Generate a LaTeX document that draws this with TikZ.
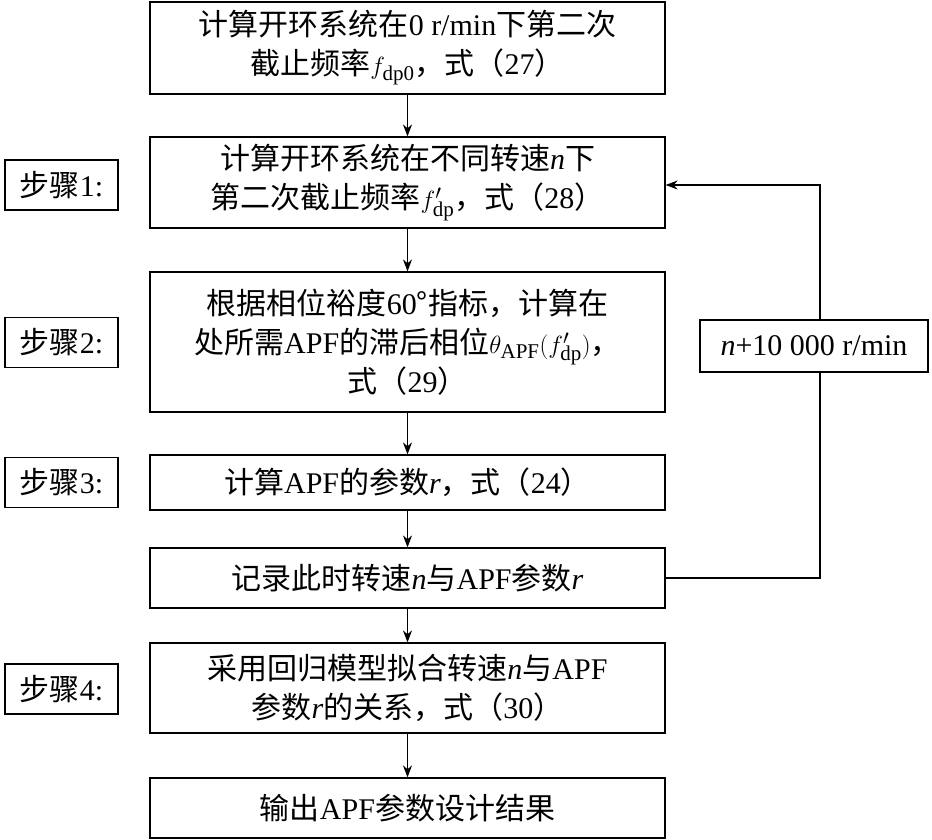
\documentclass[tikz,border=0pt]{standalone}
\usepackage{fontspec}
\setmainfont{Liberation Serif}
\newfontfamily\cjk{Noto Sans CJK SC}
\usetikzlibrary{arrows.meta}
\newcommand{\zh}[1]{{\cjk #1}}
\begin{document}
\begin{tikzpicture}[x=1pt,y=-1pt,
  box/.style={draw,line width=1.2pt,minimum width=515pt,align=center,font=\fontsize{30}{39}\selectfont,inner sep=0pt},
  stepbox/.style={draw,line width=1.2pt,minimum width=113pt,minimum height=50pt,inner sep=0pt,font=\fontsize{30}{34}\selectfont},
  arr/.style={line width=1.2pt,-{Stealth[length=12pt,width=9pt]}}]
\useasboundingbox (0,0) rectangle (932,840);
\node[box,minimum height=92pt] (b0) at (407.5,48) {\zh{计算开环系统在}0 r/min\zh{下第二次}\\\zh{截止频率}$f_{\mathrm{dp0}}$\zh{，式（}27\zh{）}};
\node[box,minimum height=91pt] (b1) at (407.5,182.5) {\zh{计算开环系统在不同转速}\textit{n}\zh{下}\\\zh{第二次截止频率}$f'_{\mathrm{dp}}$\zh{，式（}28\zh{）}};
\node[box,minimum height=140pt] (b2) at (407.5,342) {\zh{根据相位裕度}60\zh{°指标，计算在}\\\zh{处所需}APF\zh{的滞后相位}$\theta_{\mathrm{APF}}(f'_{\mathrm{dp}})$\zh{，}\\\zh{式（}29\zh{）}};
\node[box,minimum height=55pt] (b3) at (407.5,482.5) {\zh{计算}APF\zh{的参数}\textit{r}\zh{，式（}24\zh{）}};
\node[box,minimum height=60pt] (b4) at (407.5,578) {\zh{记录此时转速}\textit{n}\zh{与}APF\zh{参数}\textit{r}};
\node[box,minimum height=90pt] (b5) at (407.5,688) {\zh{采用回归模型拟合转速}\textit{n}\zh{与}APF\\\zh{参数}\textit{r}\zh{的关系，式（}30\zh{）}};
\node[box,minimum height=60pt] (b6) at (407.5,808) {\zh{输出}APF\zh{参数设计结果}};
\node[stepbox] (s1) at (61.5,185) {\zh{步骤}1:};
\node[stepbox] (s2) at (61.5,342.5) {\zh{步骤}2:};
\node[stepbox] (s3) at (61.5,482.5) {\zh{步骤}3:};
\node[stepbox] (s4) at (61.5,689) {\zh{步骤}4:};
\draw[arr] (b0) -- (b1);
\draw[arr] (b1) -- (b2);
\draw[arr] (b2) -- (b3);
\draw[arr] (b3) -- (b4);
\draw[arr] (b4) -- (b5);
\draw[arr] (b5) -- (b6);
\coordinate (c1) at (820,578);
\coordinate (c2) at (820,185);
\draw[arr] (b4.east) -- (c1) -- (c2) -- (b1.east|-c2);
\node[draw,line width=1.2pt,fill=white,minimum width=228pt,minimum height=52pt,inner sep=0pt,font=\fontsize{30}{34}\selectfont] (lab) at (814,346) {\textit{n}+10 000 r/min};
\end{tikzpicture}
\end{document}
